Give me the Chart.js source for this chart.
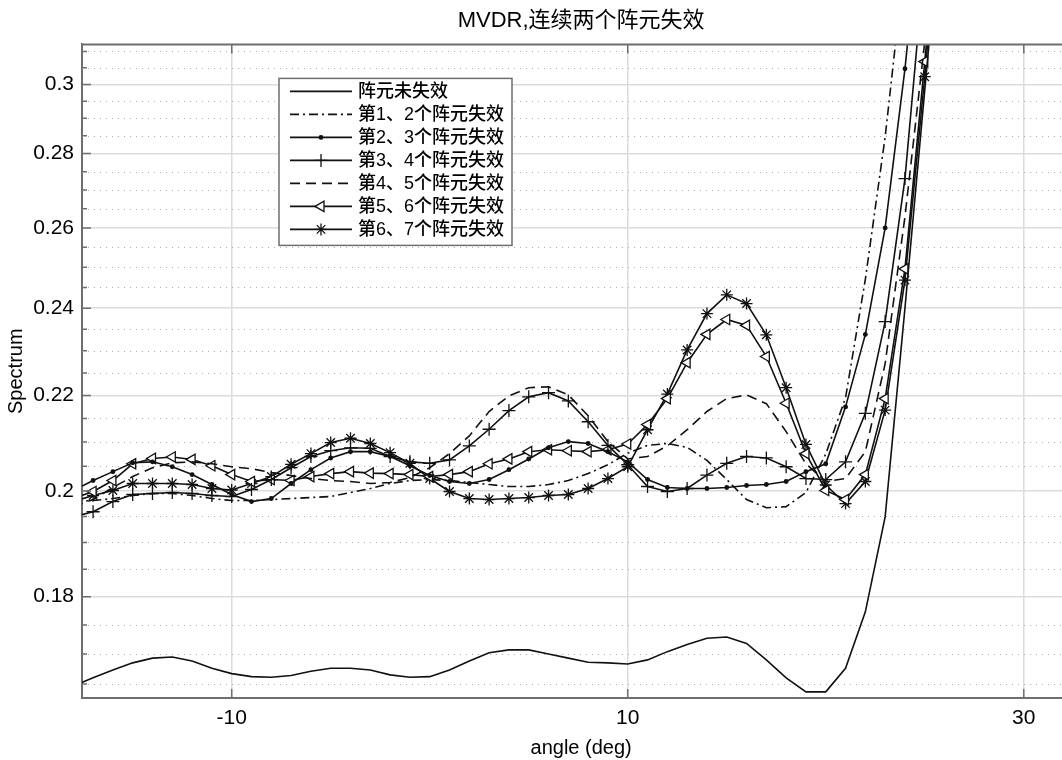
<!DOCTYPE html>
<html>
<head>
<meta charset="utf-8">
<script src="https://cdn.jsdelivr.net/npm/chart.js@4.4.0/dist/chart.umd.min.js"></script>
<style>
  html, body { margin: 0; padding: 0; background: #fff; overflow: hidden; }
  #wrap { width: 1062px; height: 760px; overflow: hidden; position: relative; }
</style>
</head>
<body>
<div id="wrap"><canvas id="chart" width="1088" height="760"></canvas></div>
<script>
// angle axis (deg), one sample per degree
const angles = [-18, -17, -16, -15, -14, -13, -12, -11, -10, -9, -8, -7, -6, -5, -4, -3, -2, -1,
  0, 1, 2, 3, 4, 5, 6, 7, 8, 9, 10, 11, 12, 13, 14, 15, 16, 17, 18, 19, 20, 21, 22, 23, 24, 25, 26];

const seriesNames = ["阵元未失效", "第1、2个阵元失效", "第2、3个阵元失效", "第3、4个阵元失效",
  "第4、5个阵元失效", "第5、6个阵元失效", "第6、7个阵元失效"];

const intact = [0.1647, 0.1660, 0.1673, 0.1685, 0.1693, 0.1695, 0.1688, 0.1676, 0.1667, 0.1662, 0.1661, 0.1664,
  0.1671, 0.1676, 0.1676, 0.1673, 0.1665, 0.1661, 0.1662, 0.1673, 0.1688, 0.1702, 0.1707, 0.1707, 0.1700, 0.1693,
  0.1686, 0.1685, 0.1683, 0.1690, 0.1704, 0.1716, 0.1727, 0.1729, 0.1718, 0.1690, 0.1660, 0.1637, 0.1637, 0.1676,
  0.1773, 0.1949, 0.2400, 0.2983, 0.3700];
const fail12 = [0.1979, 0.1981, 0.1985, 0.1991, 0.1995, 0.1995, 0.1991, 0.1985, 0.1981, 0.1981, 0.1983, 0.1985,
  0.1987, 0.1989, 0.1997, 0.2005, 0.2015, 0.2021, 0.2023, 0.2021, 0.2017, 0.2013, 0.2009, 0.2009, 0.2013, 0.2021,
  0.2035, 0.2053, 0.2077, 0.2093, 0.2097, 0.2089, 0.2062, 0.2023, 0.1983, 0.1967, 0.1969, 0.1997, 0.2075, 0.2195,
  0.2470, 0.2847, 0.3400, 0.4000, 0.4600];
const fail23 = [0.2001, 0.2021, 0.2039, 0.2057, 0.2059, 0.2049, 0.2033, 0.2013, 0.1993, 0.1979, 0.1985, 0.2015,
  0.2043, 0.2067, 0.2080, 0.2080, 0.2070, 0.2051, 0.2031, 0.2019, 0.2015, 0.2023, 0.2043, 0.2065, 0.2088, 0.2101,
  0.2097, 0.2080, 0.2059, 0.2023, 0.2007, 0.2005, 0.2005, 0.2007, 0.2011, 0.2013, 0.2019, 0.2039, 0.2055, 0.2175,
  0.2338, 0.2600, 0.3047, 0.3700, 0.4400];
const fail34 = [0.1949, 0.1959, 0.1979, 0.1993, 0.1995, 0.1997, 0.1995, 0.1991, 0.1989, 0.2003, 0.2023, 0.2047,
  0.2070, 0.2082, 0.2088, 0.2087, 0.2070, 0.2059, 0.2056, 0.2063, 0.2092, 0.2127, 0.2167, 0.2197, 0.2206, 0.2188,
  0.2143, 0.2093, 0.2053, 0.2009, 0.1999, 0.2005, 0.2032, 0.2056, 0.2070, 0.2067, 0.2049, 0.2025, 0.2023, 0.2059,
  0.2161, 0.2368, 0.2731, 0.3400, 0.4200];
const fail45 = [0.1969, 0.1983, 0.2007, 0.2029, 0.2047, 0.2057, 0.2059, 0.2055, 0.2049, 0.2045, 0.2037, 0.2031,
  0.2025, 0.2021, 0.2019, 0.2015, 0.2017, 0.2027, 0.2047, 0.2076, 0.2113, 0.2165, 0.2199, 0.2217, 0.2219, 0.2201,
  0.2156, 0.2101, 0.2065, 0.2070, 0.2092, 0.2126, 0.2165, 0.2193, 0.2201, 0.2182, 0.2122, 0.2055, 0.2019, 0.2025,
  0.2080, 0.2271, 0.2629, 0.3130, 0.3800];
const fail56 = [0.1985, 0.1999, 0.2021, 0.2055, 0.2066, 0.2069, 0.2064, 0.2051, 0.2033, 0.2019, 0.2023, 0.2021,
  0.2029, 0.2035, 0.2039, 0.2036, 0.2035, 0.2033, 0.2029, 0.2033, 0.2039, 0.2055, 0.2065, 0.2080, 0.2084, 0.2082,
  0.2080, 0.2084, 0.2096, 0.2137, 0.2193, 0.2273, 0.2338, 0.2373, 0.2359, 0.2287, 0.2183, 0.2076, 0.2001, 0.1983,
  0.2033, 0.2193, 0.2496, 0.3069, 0.3800];
const fail67 = [0.1979, 0.1991, 0.2001, 0.2015, 0.2015, 0.2015, 0.2013, 0.2005, 0.2002, 0.2015, 0.2029, 0.2054,
  0.2076, 0.2099, 0.2108, 0.2097, 0.2078, 0.2056, 0.2025, 0.1999, 0.1985, 0.1983, 0.1985, 0.1987, 0.1991, 0.1993,
  0.2005, 0.2025, 0.2049, 0.2126, 0.2203, 0.2302, 0.2387, 0.2432, 0.2411, 0.2337, 0.2217, 0.2095, 0.2012, 0.1975,
  0.2019, 0.2168, 0.2468, 0.3023, 0.3800];

const xTicks = [-10, 10, 30];
const yTicks = [0.18, 0.2, 0.22, 0.24, 0.26, 0.28, 0.3];
const yMinor = [0.165, 0.17, 0.175, 0.185, 0.19, 0.195, 0.205, 0.21, 0.215, 0.225, 0.23, 0.235,
  0.245, 0.25, 0.255, 0.265, 0.27, 0.275, 0.285, 0.29, 0.295, 0.305, 0.31];

const INK = "#111";
const AXIS = "#6e6e6e";
const FONT = "'Liberation Sans', 'Noto Sans CJK SC', Arial, sans-serif";

function series(label, values, extra) {
  return Object.assign({
    label: label,
    data: angles.map((a, i) => ({ x: a, y: values[i] })),
    borderColor: INK,
    borderWidth: 1.6,
    tension: 0,
    pointRadius: 0,
    pointBorderColor: INK,
    pointBackgroundColor: INK,
    pointBorderWidth: 1.3,
    clip: 0,
  }, extra);
}

const datasets = [
  series(seriesNames[0], intact, {}),
  series(seriesNames[1], fail12, { borderDash: [9, 4, 2, 4] }),
  series(seriesNames[2], fail23, { pointStyle: "circle", pointRadius: 1.8 }),
  series(seriesNames[3], fail34, { pointStyle: "cross", pointRadius: 6.5 }),
  series(seriesNames[4], fail45, { borderDash: [10, 6] }),
  series(seriesNames[5], fail56, { pointStyle: "triangle", pointRotation: -90, pointRadius: 6, pointBackgroundColor: "#fff" }),
  series(seriesNames[6], fail67, { pointStyle: "star", pointRadius: 6 }),
];

// minor dotted grid, inward ticks, box top and the in-plot legend
const decor = {
  id: "decor",
  beforeDatasetsDraw(chart) {
    const { ctx, chartArea: a, scales: { y } } = chart;
    ctx.save();
    ctx.strokeStyle = "#a9a9a9";
    ctx.lineWidth = 1;
    ctx.setLineDash([1, 5]);
    yMinor.forEach(v => {
      const py = Math.round(y.getPixelForValue(v)) + 0.5;
      ctx.beginPath();
      ctx.moveTo(a.left, py);
      ctx.lineTo(a.right, py);
      ctx.stroke();
    });
    ctx.restore();
  },
  afterDraw(chart) {
    const { ctx, chartArea: a, scales: { x, y } } = chart;
    ctx.save();
    ctx.strokeStyle = AXIS;
    ctx.lineWidth = 2;
    ctx.beginPath();
    ctx.moveTo(a.left, a.top);
    ctx.lineTo(a.right, a.top);
    ctx.stroke();

    ctx.lineWidth = 1.5;
    ctx.beginPath();
    yTicks.forEach(v => {
      const py = y.getPixelForValue(v);
      ctx.moveTo(a.left, py); ctx.lineTo(a.left + 9, py);
    });
    yMinor.forEach(v => {
      const py = y.getPixelForValue(v);
      ctx.moveTo(a.left, py); ctx.lineTo(a.left + 5, py);
    });
    xTicks.forEach(v => {
      const px = x.getPixelForValue(v);
      ctx.moveTo(px, a.bottom); ctx.lineTo(px, a.bottom - 9);
      ctx.moveTo(px, a.top); ctx.lineTo(px, a.top + 9);
    });
    ctx.stroke();

    // legend
    const lx = a.left + 197, ly = a.top + 34, lw = 233, lh = 167;
    ctx.fillStyle = "#fff";
    ctx.fillRect(lx, ly, lw, lh);
    ctx.strokeStyle = AXIS;
    ctx.lineWidth = 1.5;
    ctx.strokeRect(lx, ly, lw, lh);
    chart.data.datasets.forEach((ds, i) => {
      const cy = ly + 13 + i * 23;
      ctx.save();
      ctx.strokeStyle = ds.borderColor;
      ctx.lineWidth = ds.borderWidth;
      ctx.setLineDash(ds.borderDash || []);
      ctx.beginPath();
      ctx.moveTo(lx + 11, cy);
      ctx.lineTo(lx + 73, cy);
      ctx.stroke();
      ctx.setLineDash([]);
      if (ds.pointRadius > 0) {
        ctx.fillStyle = ds.pointBackgroundColor;
        ctx.strokeStyle = ds.pointBorderColor;
        ctx.lineWidth = ds.pointBorderWidth;
        Chart.helpers.drawPoint(ctx, {
          pointStyle: ds.pointStyle,
          rotation: ds.pointRotation || 0,
          radius: ds.pointRadius,
          borderWidth: ds.pointBorderWidth,
        }, lx + 42, cy);
      }
      ctx.fillStyle = "#000";
      ctx.font = "500 18px " + FONT;
      ctx.textBaseline = "middle";
      ctx.fillText(ds.label, lx + 79, cy + 1);
      ctx.restore();
    });
    ctx.restore();
  },
};

new Chart(document.getElementById("chart"), {
  type: "line",
  data: { datasets: datasets },
  plugins: [decor],
  options: {
    responsive: false,
    animation: false,
    devicePixelRatio: 1,
    layout: { padding: 0 },
    plugins: {
      legend: { display: false },
      tooltip: { enabled: false },
      title: {
        display: true,
        fullSize: false,
        text: "MVDR,连续两个阵元失效",
        color: "#000",
        font: { family: FONT, size: 22, weight: "normal" },
        padding: { top: 8, bottom: 10 },
      },
    },
    scales: {
      x: {
        type: "linear",
        min: -17.56,
        max: 32.85,
        afterBuildTicks: s => { s.ticks = xTicks.map(v => ({ value: v })); },
        afterFit: s => { s.height = 62; },
        ticks: { color: "#000", font: { family: FONT, size: 21 }, padding: 8, autoSkip: false, maxRotation: 0 },
        grid: { color: "#dcdcdc", lineWidth: 1.5, drawTicks: false },
        border: { color: AXIS, width: 2 },
        title: { display: true, text: "angle (deg)", color: "#000", font: { family: FONT, size: 20 }, padding: { top: 0, bottom: 0 } },
      },
      y: {
        type: "logarithmic",
        min: 0.1627,
        max: 0.3122,
        afterBuildTicks: s => { s.ticks = yTicks.map(v => ({ value: v })); },
        afterFit: s => { s.width = 82; },
        ticks: { color: "#000", font: { family: FONT, size: 21 }, padding: 8, autoSkip: false, callback: v => String(v) },
        grid: { color: "#dcdcdc", lineWidth: 1.5, drawTicks: false },
        border: { color: AXIS, width: 2 },
        title: { display: true, text: "Spectrum", color: "#000", font: { family: FONT, size: 20 }, padding: 4 },
      },
    },
  },
});
</script>
</body>
</html>
